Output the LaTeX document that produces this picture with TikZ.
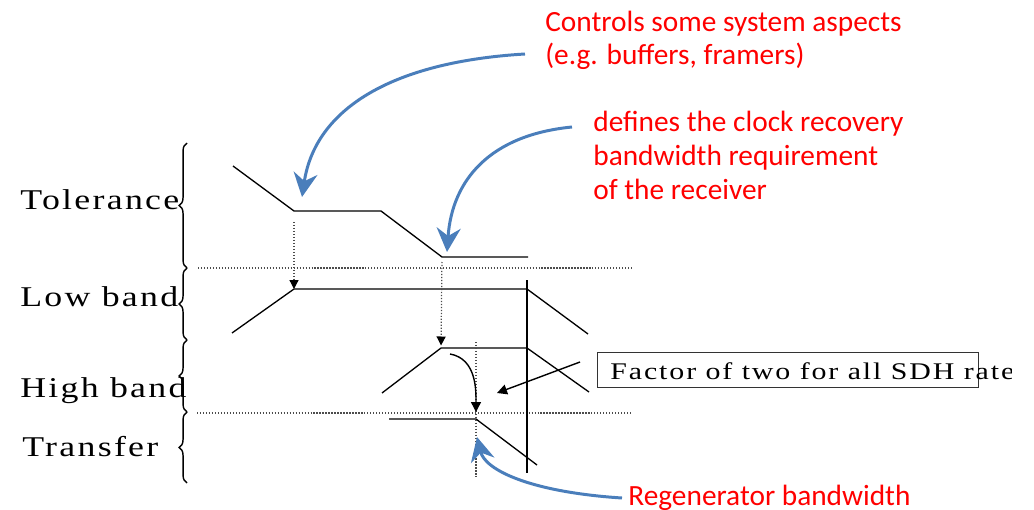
\documentclass[tikz,border=0pt]{standalone}
\usepackage{fontspec}
\usepackage{tikz}
\usetikzlibrary{arrows.meta,decorations.pathreplacing}
\newfontfamily\bandfont[FakeStretch=1.25,LetterSpace=8]{Liberation Serif}
\newfontfamily\notefont{Carlito}
\definecolor{noteblue}{HTML}{4A7EBB}
\definecolor{notered}{HTML}{FF0000}
\newcommand{\bandlabel}[3]{
  \node[bandtext] (#1) at #2 {#3};
}
\newcommand{\bandbrace}[2]{
  \draw[bracestyle] (#1) -- (#2);
}

\begin{document}
\begin{tikzpicture}[x=0.02cm,y=-0.02cm,>=Latex,
  trace/.style={line width=0.75pt},
  guide/.style={densely dotted,line width=0.7pt,black!70},
  guidearrow/.style={guide,-{Triangle[length=1.8mm,width=1.8mm,color=black]}},
  pointer/.style={line width=0.8pt,-{Triangle[length=2mm,width=2mm]}},
  callout/.style={draw=noteblue,line width=1.7pt,-{Stealth[length=4.8mm,width=4.8mm,inset=1.6mm]}},
  notetext/.style={text=notered,font=\notefont\fontsize{16.7}{19.3}\selectfont,align=left,anchor=base west,inner sep=0pt},
  bandtext/.style={font=\bandfont\fontsize{16.3}{19}\selectfont,anchor=base west,inner sep=0pt},
  boxtext/.style={font=\bandfont\fontsize{13.6}{16}\selectfont,anchor=base west,inner sep=0pt},
  bracestyle/.style={decorate,decoration={brace,amplitude=4.5pt},line width=0.8pt}]
  \useasboundingbox (0,0) rectangle (1034,510);

  % labels and braces on the left
  \bandlabel{tolname}{(20,209)}{Tolerance}
  \bandlabel{lowname}{(20,306)}{Low band}
  \bandlabel{highname}{(20,397)}{High band}
  \bandlabel{trname}{(22,456)}{Transfer}
  \coordinate (br0) at (187,143);
  \coordinate (br1) at (187,268);
  \coordinate (br2) at (187,340);
  \coordinate (br3) at (187,412);
  \coordinate (br4) at (187,483);
  \bandbrace{br1}{br0}
  \bandbrace{br2}{br1}
  \bandbrace{br3}{br2}
  \bandbrace{br4}{br3}

  % separators
  \coordinate (sepAl) at (198,268);
  \coordinate (sepAr) at (632,268);
  \coordinate (sepBl) at (197,413);
  \coordinate (sepBr) at (632,413);
  \draw[guide] (sepAl) -- (sepAr);
  \draw[guide] (sepBl) -- (sepBr);

  % tolerance mask
  \coordinate (tol1) at (233,166);
  \coordinate (tol2) at (294,211);
  \coordinate (tol3) at (381,211);
  \coordinate (tol4) at (442,257);
  \coordinate (tol5) at (528,257);
  \draw[trace] (tol1) -- (tol2) -- (tol3) -- (tol4) -- (tol5);

  % low band
  \coordinate (low1) at (232,333);
  \coordinate (low2) at (294,289);
  \coordinate (low3) at (527,289);
  \coordinate (low4) at (588,334);
  \draw[trace] (low1) -- (low2) -- (low3) -- (low4);

  % high band
  \coordinate (high1) at (382,393);
  \coordinate (high2) at (441,348);
  \coordinate (high3) at (527,348);
  \coordinate (high4) at (589,392);
  \draw[trace] (high1) -- (high2) -- (high3) -- (high4);

  % transfer
  \coordinate (tr1) at (389,419);
  \coordinate (tr2) at (476,419);
  \coordinate (tr3) at (537,465);
  \draw[trace] (tr1) -- (tr2) -- (tr3);

  % rate line and regenerator line
  \coordinate (rateTop) at (527,280);
  \coordinate (rateBot) at (527,473);
  \draw[trace] (rateTop) -- (rateBot);
  \coordinate (regTop) at (476,342);
  \coordinate (regBot) at (476,477);
  \draw[guide] (regTop) -- (regBot);

  % corner arrows
  \draw[guidearrow,shorten <=2.2mm] (tol2) -- (low2);
  \draw[guidearrow,shorten <=1mm,shorten >=0.5mm] (tol4) -- (high2);
  \coordinate (bwStart) at (450,354);
  \draw[pointer,shorten >=1.4mm] (bwStart) to[out=-10,in=90] (tr2);

  % factor of two box
  \node[draw=black!80,line width=0.8pt,minimum width=7.62cm,minimum height=0.7cm,
        inner sep=0pt,anchor=north west] (factorbox) at (597,352) {};
  \begin{scope}
    \clip (0,0) rectangle (1011,510);
    \node[boxtext] (factortext) at (610,379) {Factor of two for all SDH rate};
  \end{scope}
  \coordinate (factorFoot) at (580,362);
  \coordinate (factorTip) at (497,393);
  \draw[pointer] (factorFoot) -- (factorTip);

  % red notes with blue callouts
  \node[notetext] (ctlnote) at (545,65) {Controls some system aspects\\(e.g. buffers, framers)};
  \node[notetext] (clknote) at (593,199) {defines the clock recovery\\bandwidth requirement\\of the receiver};
  \node[notetext] (regnote) at (628,505) {Regenerator bandwidth};
  \coordinate (ctlFoot) at (525,54);
  \coordinate (ctlTip) at (302,197);
  \coordinate (clkFoot) at (572,127);
  \coordinate (clkTip) at (447,252);
  \coordinate (regFoot) at (622,498);
  \coordinate (regTip) at (477,437);
  \draw[callout] (ctlFoot) .. controls (390,62) and (315,110) .. (ctlTip);
  \draw[callout] (clkFoot) .. controls (490,135) and (452,180) .. (clkTip);
  \draw[callout] (regFoot) .. controls (530,492) and (485,470) .. (regTip);
\end{tikzpicture}
\end{document}
